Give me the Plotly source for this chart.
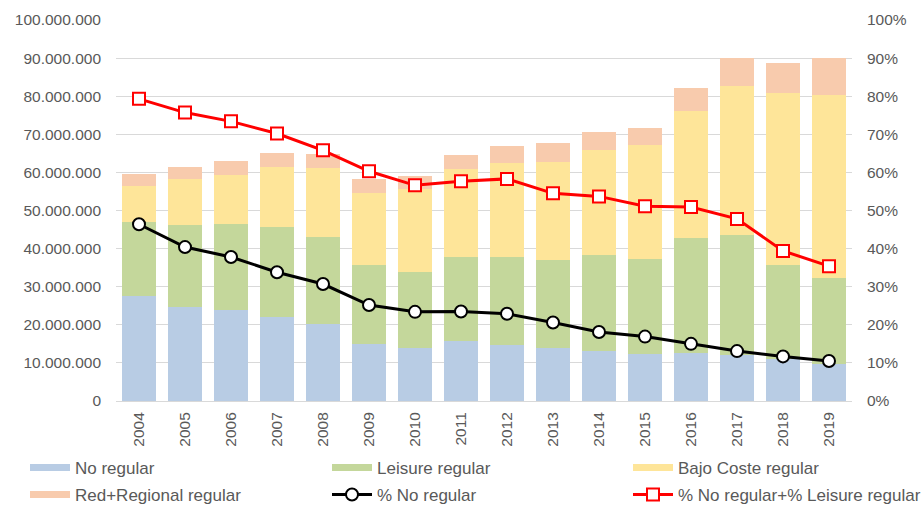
import plotly.graph_objects as go

years = [str(y) for y in range(2004, 2020)]

# Passengers per segment (stacked bars, left axis)
no_regular = [27.6, 24.7, 24.0, 22.0, 20.2, 15.0, 14.0, 15.7, 14.8, 14.0, 13.1, 12.4, 12.6, 12.2, 10.9, 9.7]
leisure_regular = [19.5, 21.5, 22.5, 23.7, 22.8, 20.7, 19.9, 22.0, 22.9, 23.1, 25.3, 24.9, 30.2, 31.4, 24.9, 22.6]
bajo_coste_regular = [9.4, 12.1, 12.9, 15.7, 18.1, 19.0, 21.8, 23.1, 24.8, 25.6, 27.5, 29.9, 33.4, 39.0, 45.1, 48.1]
red_regional_regular = [3.0, 3.0, 3.6, 3.7, 3.7, 3.6, 3.4, 3.8, 4.5, 5.1, 4.6, 4.5, 5.9, 7.3, 7.9, 9.5]

# Shares (%), right axis
pct_no_regular = [46.4, 40.4, 37.8, 33.8, 30.7, 25.2, 23.4, 23.5, 22.9, 20.6, 18.1, 16.9, 15.0, 13.1, 11.7, 10.5]
pct_no_plus_leisure = [79.3, 75.7, 73.4, 70.2, 65.8, 60.3, 56.6, 57.7, 58.3, 54.5, 53.7, 51.1, 50.9, 47.8, 39.4, 35.4]

left_ticks = [i * 10_000_000 for i in range(11)]
left_ticktext = [f"{v:,}".replace(",", ".") for v in left_ticks]
right_ticks = list(range(0, 101, 10))
right_ticktext = [f"{v}%" for v in right_ticks]

MILLION = 1_000_000
FONT = "Liberation Sans, Arial, sans-serif"
TXT = "#595959"
W, H = 924, 505

# Legend grid: three columns, two rows (pixel positions of each entry)
COL_X = [25, 327, 628]
ROW_Y = [468, 495]

# (name, values, colour, legend slot)
bar_series = [
    ("No regular", no_regular, "#B8CCE4", "legend"),
    ("Leisure regular", leisure_regular, "#C4D79B", "legend2"),
    ("Bajo Coste regular", bajo_coste_regular, "#FEE599", "legend3"),
    ("Red+Regional regular", red_regional_regular, "#F8CBAD", "legend4"),
]

fig = go.Figure()

for name, vals, color, _ in bar_series:
    fig.add_trace(go.Bar(
        x=years, y=[v * MILLION for v in vals], name=name,
        marker=dict(color=color, line=dict(width=0)),
        showlegend=False,
    ))

# Legend keys for the bar series drawn as flat wide swatches
for name, vals, color, leg in bar_series:
    fig.add_trace(go.Scatter(
        x=[years[0]], y=[None], mode="lines", name=name,
        line=dict(color=color, width=7), legend=leg, showlegend=True,
        hoverinfo="skip",
    ))

fig.add_trace(go.Scatter(
    x=years, y=pct_no_regular, name="% No regular", yaxis="y2",
    mode="lines+markers", legend="legend5",
    line=dict(color="black", width=3),
    marker=dict(symbol="circle", size=12, color="white", line=dict(color="black", width=2)),
))
fig.add_trace(go.Scatter(
    x=years, y=pct_no_plus_leisure, name="% No regular+% Leisure regular", yaxis="y2",
    mode="lines+markers", legend="legend6",
    line=dict(color="#FF0000", width=3),
    marker=dict(symbol="square", size=12, color="white", line=dict(color="#FF0000", width=2)),
))


def legend_slot(col, row):
    return dict(
        orientation="v", xref="container", yref="container",
        x=COL_X[col] / W, xanchor="left", y=1 - ROW_Y[row] / H, yanchor="middle",
        font=dict(family=FONT, size=17, color=TXT), bgcolor="rgba(0,0,0,0)",
        traceorder="normal", itemwidth=40, tracegroupgap=0,
    )


fig.update_layout(
    width=W, height=H,
    margin=dict(l=116, r=72, t=20, b=104, autoexpand=False),
    paper_bgcolor="white", plot_bgcolor="white",
    barmode="stack", bargap=0.24,
    font=dict(family=FONT, size=15.5, color=TXT),
    legend=legend_slot(0, 0),
    legend2=legend_slot(1, 0),
    legend3=legend_slot(2, 0),
    legend4=legend_slot(0, 1),
    legend5=legend_slot(1, 1),
    legend6=legend_slot(2, 1),
    xaxis=dict(
        type="category", categoryarray=years, range=[-0.5, len(years) - 0.5],
        tickangle=-90, showgrid=False,
        showline=True, linecolor="#D9D9D9", linewidth=1,
        ticks="", ticklabelstandoff=4, automargin=False,
        tickfont=dict(family=FONT, size=15.5, color=TXT),
    ),
    yaxis=dict(
        range=[0, 100 * MILLION], tickvals=left_ticks, ticktext=left_ticktext,
        showgrid=True, gridcolor="#D9D9D9", gridwidth=1, zeroline=False,
        ticks="", ticklabelstandoff=14, automargin=False,
        tickfont=dict(family=FONT, size=15.5, color=TXT),
    ),
    yaxis2=dict(
        overlaying="y", side="right", range=[0, 100],
        tickvals=right_ticks, ticktext=right_ticktext, showgrid=False, zeroline=False,
        ticks="", ticklabelstandoff=14, automargin=False,
        tickfont=dict(family=FONT, size=15.5, color=TXT),
    ),
)

fig.write_html("out.html")
